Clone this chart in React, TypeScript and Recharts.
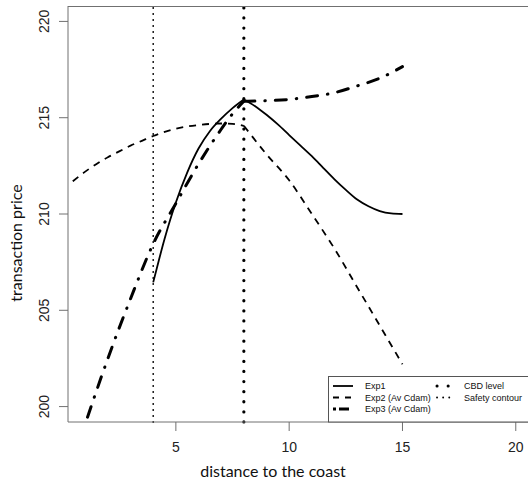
import { Line, LineChart, ReferenceLine, XAxis, YAxis } from "recharts";

const FONT = '"Liberation Sans", Arial, sans-serif';
const TITLE_FONT = 'Lato, "Open Sans", sans-serif';

const exp1X = [4, 4.25, 4.5, 4.75, 5, 5.5, 6, 6.5, 7, 7.5, 8, 8.5, 9, 9.5, 10, 10.5, 11, 11.5, 12, 12.5, 13, 13.5, 14, 14.5, 15];
const exp1Y = [206.45, 207.6, 208.7, 209.7, 210.6, 212.15, 213.4, 214.3, 214.95, 215.5, 215.95, 215.6, 215.15, 214.65, 214.1, 213.55, 213.0, 212.4, 211.8, 211.25, 210.75, 210.4, 210.15, 210.03, 210.0];

const exp2X = [0.45, 1, 1.5, 2, 2.5, 3, 3.5, 4, 5, 6, 7, 7.5, 8, 9, 10, 11, 12, 13, 14, 15];
const exp2Y = [211.7, 212.2, 212.6, 212.95, 213.25, 213.55, 213.8, 214.05, 214.43, 214.62, 214.7, 214.68, 214.58, 213.1, 211.75, 210.0, 208.2, 206.2, 204.2, 202.2];

const exp3X = [1.1, 2, 3, 4, 5, 6, 7, 7.5, 8, 9, 10, 11, 12, 13, 14, 15];
const exp3Y = [199.45, 202.5, 205.6, 208.45, 210.55, 212.6, 214.4, 215.2, 215.85, 215.88, 215.95, 216.1, 216.3, 216.65, 217.05, 217.65];

const cbdLevel = 8;
const safetyContour = 4;

const xTicks = [5, 10, 15, 20];
const yTicks = [200, 205, 210, 215, 220];

const X_DOMAIN: [number, number] = [0.24, 20.76];
const Y_DOMAIN: [number, number] = [199.2, 220.8];

const toPoints = (xs: number[], ys: number[]) => xs.map((x, i) => ({ x, y: ys[i] }));

// curves break at the CBD level, so each side is drawn on its own
const before = (pts: { x: number; y: number }[]) => pts.filter((p) => p.x <= cbdLevel);
const after = (pts: { x: number; y: number }[]) => pts.filter((p) => p.x >= cbdLevel);

const exp1 = toPoints(exp1X, exp1Y);
const exp2 = toPoints(exp2X, exp2Y);
const exp3 = toPoints(exp3X, exp3Y);

const AXIS = "#707070";

function XTick({ x, y, payload }: any) {
  return (
    <text x={x} y={y + 19} textAnchor="middle" fontSize={14} fontFamily={FONT} fill="#222">
      {payload.value}
    </text>
  );
}

function YTick({ y, payload }: any) {
  return (
    <text
      x={49}
      y={y}
      transform={`rotate(-90, 49, ${y})`}
      textAnchor="middle"
      fontSize={14}
      fontFamily={FONT}
      fill="#222"
    >
      {payload.value}
    </text>
  );
}

function LegendBox() {
  const rows = [10, 21.5, 33];
  const txt = { fontSize: 9, fontFamily: FONT, fill: "#111", dominantBaseline: "central" as const };
  return (
    <svg
      width={210}
      height={47}
      style={{ position: "absolute", left: 328, top: 376, overflow: "visible" }}
    >
      <rect x={0.5} y={0.5} width={210} height={45.5} fill="#fff" stroke="#555" />
      <line x1={5} x2={25} y1={rows[0]} y2={rows[0]} stroke="#000" strokeWidth={1.8} />
      <line x1={5} x2={25} y1={rows[1]} y2={rows[1]} stroke="#000" strokeWidth={1.8} strokeDasharray="6 6" />
      <line x1={5} x2={25} y1={rows[2]} y2={rows[2]} stroke="#000" strokeWidth={3} strokeDasharray="3 3 10 10" />
      <text x={37} y={rows[0]} {...txt}>Exp1</text>
      <text x={37} y={rows[1]} {...txt}>Exp2 (Av Cdam)</text>
      <text x={37} y={rows[2]} {...txt}>Exp3 (Av Cdam)</text>
      <line x1={109} x2={122} y1={rows[0]} y2={rows[0]} stroke="#000" strokeWidth={3} strokeLinecap="round" strokeDasharray="0.1 11" />
      <line x1={109} x2={122} y1={rows[1]} y2={rows[1]} stroke="#000" strokeWidth={1.8} strokeLinecap="round" strokeDasharray="0.1 6" />
      <text x={136} y={rows[0]} {...txt}>CBD level</text>
      <text x={136} y={rows[1]} {...txt}>Safety contour</text>
    </svg>
  );
}

const exp1Style = { stroke: "#000", strokeWidth: 1.8 };
const exp2Style = { stroke: "#000", strokeWidth: 1.8, strokeDasharray: "7 6" };
const exp3Style = { stroke: "#000", strokeWidth: 3, strokeLinecap: "round" as const, strokeDasharray: "11 10 0.5 10" };

export default function App() {
  return (
    <div
      style={{
        position: "absolute",
        left: 0,
        top: 0,
        width: 528,
        height: 483,
        overflow: "hidden",
        background: "#fff",
      }}
    >
      <LineChart width={540} height={483} margin={{ top: 6, right: 7, bottom: 0, left: 0 }}>
        <XAxis
          dataKey="x"
          type="number"
          domain={X_DOMAIN}
          allowDataOverflow
          ticks={xTicks}
          tick={<XTick />}
          tickSize={9}
          height={61}
          stroke={AXIS}
          tickLine={{ stroke: AXIS }}
          label={{
            value: "distance to the coast",
            content: () => (
              <text x={273} y={477} textAnchor="middle" fontSize={16} fontFamily={TITLE_FONT} fill="#111">
                distance to the coast
              </text>
            ),
          }}
        />
        <YAxis
          dataKey="y"
          type="number"
          domain={Y_DOMAIN}
          allowDataOverflow
          ticks={yTicks}
          tick={<YTick />}
          tickSize={9}
          width={68}
          stroke={AXIS}
          tickLine={{ stroke: AXIS }}
          label={{
            value: "transaction price",
            content: () => (
              <text
                x={22}
                y={243}
                transform="rotate(-90, 22, 243)"
                textAnchor="middle"
                fontSize={16}
                fontFamily={TITLE_FONT}
                fill="#111"
              >
                transaction price
              </text>
            ),
          }}
        />
        <ReferenceLine x={safetyContour} stroke="#000" strokeWidth={1.8} strokeLinecap="round" strokeDasharray="0.1 5.9" />
        <ReferenceLine x={cbdLevel} stroke="#000" strokeWidth={3.2} strokeLinecap="round" strokeDasharray="0.1 10" />
        <Line data={before(exp1)} dataKey="y" type="monotone" {...exp1Style} dot={false} isAnimationActive={false} />
        <Line data={after(exp1)} dataKey="y" type="monotone" {...exp1Style} dot={false} isAnimationActive={false} />
        <Line data={before(exp2)} dataKey="y" type="monotone" {...exp2Style} dot={false} isAnimationActive={false} />
        <Line data={after(exp2)} dataKey="y" type="monotone" {...exp2Style} dot={false} isAnimationActive={false} />
        <Line data={before(exp3)} dataKey="y" type="monotone" {...exp3Style} dot={false} isAnimationActive={false} />
        <Line data={after(exp3)} dataKey="y" type="monotone" {...exp3Style} dot={false} isAnimationActive={false} />
      </LineChart>
      {/* top edge of the R box() frame */}
      <div
        style={{
          position: "absolute",
          left: 68,
          top: 6,
          width: 470,
          height: 1,
          background: AXIS,
        }}
      />
      <LegendBox />
    </div>
  );
}
